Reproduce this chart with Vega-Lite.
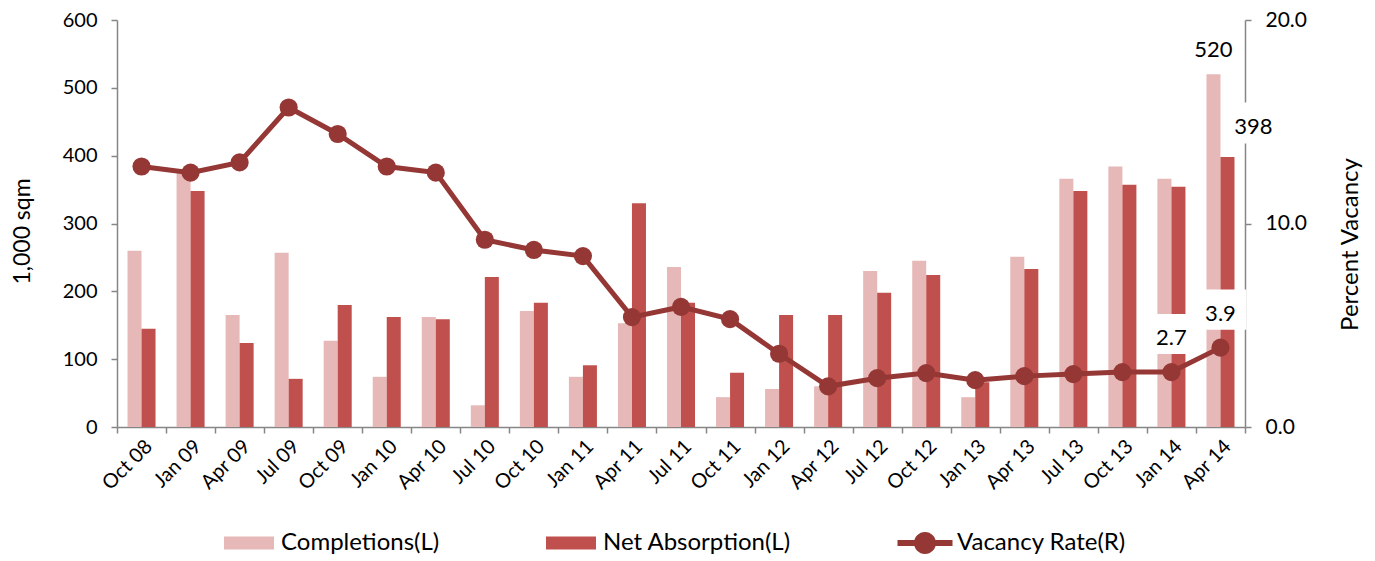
{
  "$schema": "https://vega.github.io/schema/vega-lite/v6.json",
  "autosize": {"type": "none"},
  "width": 1128,
  "height": 407,
  "padding": {"left": 117, "top": 20, "right": 130, "bottom": 134},
  "config": {
    "font": "Lato",
    "view": {"stroke": null},
    "axis": {"domainColor": "#868686", "tickColor": "#868686", "grid": false, "labelColor": "#000000", "titleColor": "#000000", "labelFont": "Lato", "titleFont": "Lato", "titleFontWeight": "normal", "domainWidth": 1.5, "tickWidth": 1.5}
  },
  "datasets": {
    "bars": [
      {"quarter": "Oct 08", "series": "Completions(L)", "value": 260},
      {"quarter": "Oct 08", "series": "Net Absorption(L)", "value": 145},
      {"quarter": "Jan 09", "series": "Completions(L)", "value": 380},
      {"quarter": "Jan 09", "series": "Net Absorption(L)", "value": 348},
      {"quarter": "Apr 09", "series": "Completions(L)", "value": 165},
      {"quarter": "Apr 09", "series": "Net Absorption(L)", "value": 124},
      {"quarter": "Jul 09", "series": "Completions(L)", "value": 257},
      {"quarter": "Jul 09", "series": "Net Absorption(L)", "value": 71},
      {"quarter": "Oct 09", "series": "Completions(L)", "value": 127},
      {"quarter": "Oct 09", "series": "Net Absorption(L)", "value": 180},
      {"quarter": "Jan 10", "series": "Completions(L)", "value": 74},
      {"quarter": "Jan 10", "series": "Net Absorption(L)", "value": 162},
      {"quarter": "Apr 10", "series": "Completions(L)", "value": 162},
      {"quarter": "Apr 10", "series": "Net Absorption(L)", "value": 159},
      {"quarter": "Jul 10", "series": "Completions(L)", "value": 32},
      {"quarter": "Jul 10", "series": "Net Absorption(L)", "value": 221},
      {"quarter": "Oct 10", "series": "Completions(L)", "value": 171},
      {"quarter": "Oct 10", "series": "Net Absorption(L)", "value": 183},
      {"quarter": "Jan 11", "series": "Completions(L)", "value": 74},
      {"quarter": "Jan 11", "series": "Net Absorption(L)", "value": 91},
      {"quarter": "Apr 11", "series": "Completions(L)", "value": 153},
      {"quarter": "Apr 11", "series": "Net Absorption(L)", "value": 330},
      {"quarter": "Jul 11", "series": "Completions(L)", "value": 236},
      {"quarter": "Jul 11", "series": "Net Absorption(L)", "value": 183},
      {"quarter": "Oct 11", "series": "Completions(L)", "value": 44},
      {"quarter": "Oct 11", "series": "Net Absorption(L)", "value": 80},
      {"quarter": "Jan 12", "series": "Completions(L)", "value": 56},
      {"quarter": "Jan 12", "series": "Net Absorption(L)", "value": 165},
      {"quarter": "Apr 12", "series": "Completions(L)", "value": 60},
      {"quarter": "Apr 12", "series": "Net Absorption(L)", "value": 165},
      {"quarter": "Jul 12", "series": "Completions(L)", "value": 230},
      {"quarter": "Jul 12", "series": "Net Absorption(L)", "value": 198},
      {"quarter": "Oct 12", "series": "Completions(L)", "value": 245},
      {"quarter": "Oct 12", "series": "Net Absorption(L)", "value": 224},
      {"quarter": "Jan 13", "series": "Completions(L)", "value": 44},
      {"quarter": "Jan 13", "series": "Net Absorption(L)", "value": 66},
      {"quarter": "Apr 13", "series": "Completions(L)", "value": 251},
      {"quarter": "Apr 13", "series": "Net Absorption(L)", "value": 233},
      {"quarter": "Jul 13", "series": "Completions(L)", "value": 366},
      {"quarter": "Jul 13", "series": "Net Absorption(L)", "value": 348},
      {"quarter": "Oct 13", "series": "Completions(L)", "value": 384},
      {"quarter": "Oct 13", "series": "Net Absorption(L)", "value": 357},
      {"quarter": "Jan 14", "series": "Completions(L)", "value": 366},
      {"quarter": "Jan 14", "series": "Net Absorption(L)", "value": 354},
      {"quarter": "Apr 14", "series": "Completions(L)", "value": 520},
      {"quarter": "Apr 14", "series": "Net Absorption(L)", "value": 398}
    ],
    "vacancy": [
      {"quarter": "Oct 08", "rate": 12.8},
      {"quarter": "Jan 09", "rate": 12.5},
      {"quarter": "Apr 09", "rate": 13.0},
      {"quarter": "Jul 09", "rate": 15.7},
      {"quarter": "Oct 09", "rate": 14.4},
      {"quarter": "Jan 10", "rate": 12.8},
      {"quarter": "Apr 10", "rate": 12.5},
      {"quarter": "Jul 10", "rate": 9.2},
      {"quarter": "Oct 10", "rate": 8.7},
      {"quarter": "Jan 11", "rate": 8.4},
      {"quarter": "Apr 11", "rate": 5.4},
      {"quarter": "Jul 11", "rate": 5.9},
      {"quarter": "Oct 11", "rate": 5.3},
      {"quarter": "Jan 12", "rate": 3.6},
      {"quarter": "Apr 12", "rate": 2.0},
      {"quarter": "Jul 12", "rate": 2.4},
      {"quarter": "Oct 12", "rate": 2.65},
      {"quarter": "Jan 13", "rate": 2.3},
      {"quarter": "Apr 13", "rate": 2.5},
      {"quarter": "Jul 13", "rate": 2.6},
      {"quarter": "Oct 13", "rate": 2.7},
      {"quarter": "Jan 14", "rate": 2.7},
      {"quarter": "Apr 14", "rate": 3.9}
    ]
  },
  "layer": [
    {
      "data": {"name": "bars"},
      "encoding": {
        "x": {"field": "quarter", "type": "nominal", "sort": null,
          "scale": {"paddingInner": 0, "paddingOuter": 0},
          "axis": {"title": null, "labelAngle": -45, "labelFontSize": 20, "tickBand": "extent", "tickSize": 6, "labelPadding": 3}},
        "y": {"field": "value", "type": "quantitative",
          "scale": {"domain": [0, 600], "nice": false},
          "axis": {"title": "1,000 sqm", "titleY": 211, "values": [0, 100, 200, 300, 400, 500, 600], "labelFontSize": 20, "titleFontSize": 23, "tickSize": 6, "labelPadding": 14, "titlePadding": 28}}
      },
      "layer": [
        {
          "mark": {"type": "bar"},
          "encoding": {
            "xOffset": {"field": "series", "type": "nominal", "sort": null, "scale": {"paddingInner": 0, "paddingOuter": 0.75}},
            "color": {"field": "series", "type": "nominal",
              "scale": {"domain": ["Completions(L)", "Net Absorption(L)", "Vacancy Rate(R)"], "range": ["#E6B9B8", "#C0504D", "#953735"]},
              "legend": {"title": null, "orient": "none", "direction": "horizontal", "legendX": 107, "legendY": 498,
                "labelFontSize": 24, "labelFont": "Lato", "labelColor": "#000000", "labelLimit": 400, "symbolSize": 2500, "labelOffset": 7, "columnPadding": 106, "symbolStrokeWidth": 0,
                "encode": {"symbols": {"update": {
                  "shape": {"signal": "datum.value === 'Vacancy Rate(R)' ? 'M-1.1,-0.12L1.1,-0.12L1.1,0.12L-1.1,0.12Z M0.44,0 A0.44,0.44 0 1,1 -0.44,0 A0.44,0.44 0 1,1 0.44,0Z' : 'M-1,-0.26L1,-0.26L1,0.26L-1,0.26Z'"},
                  "fill": {"signal": "scale('color', datum.value)"},
                  "fillOpacity": {"value": 1},
                  "strokeWidth": {"value": 0}
                }}}}
            }
          }
        },
        {
          "transform": [{"filter": "datum.quarter === 'Apr 14' && datum.series === 'Completions(L)'"}],
          "mark": {"type": "text", "baseline": "middle", "dy": -24, "fontSize": 22, "font": "Lato", "color": "#000000"},
          "encoding": {
            "xOffset": {"field": "series", "type": "nominal", "sort": ["Completions(L)", "Net Absorption(L)"], "scale": {"domain": ["Completions(L)", "Net Absorption(L)"], "paddingInner": 0, "paddingOuter": 0.75}},
            "text": {"field": "value", "type": "quantitative"}}
        },
        {
          "transform": [{"filter": "datum.quarter === 'Apr 14' && datum.series === 'Net Absorption(L)'"}],
          "mark": {"type": "point", "shape": "M-1,-0.82L1,-0.82L1,0.82L-1,0.82Z", "size": 2500, "filled": true, "color": "#ffffff", "opacity": 1, "xOffset": 32, "yOffset": -34},
          "encoding": {}
        },
        {
          "transform": [{"filter": "datum.quarter === 'Apr 14' && datum.series === 'Net Absorption(L)'"}],
          "mark": {"type": "text", "baseline": "middle", "dy": -30, "dx": 33, "fontSize": 22, "font": "Lato", "color": "#000000"},
          "encoding": {"text": {"field": "value", "type": "quantitative"}}
        }
      ]
    },
    {
      "data": {"name": "vacancy"},
      "encoding": {
        "x": {"field": "quarter", "type": "nominal", "sort": null},
        "y": {"field": "rate", "type": "quantitative",
          "scale": {"domain": [0, 20], "nice": false},
          "axis": {"orient": "right", "title": "Percent Vacancy", "titleAngle": -90, "titleY": 224, "values": [0, 10, 20], "format": ".1f", "labelFontSize": 21, "titleFontSize": 24, "tickSize": 6, "labelPadding": 14, "titlePadding": 56}}
      },
      "layer": [
        {
          "mark": {"type": "line", "strokeWidth": 5, "point": {"filled": true, "size": 330, "opacity": 1}},
          "encoding": {"color": {"datum": "Vacancy Rate(R)"}}
        },
        {
          "transform": [{"filter": "datum.quarter === 'Jan 14' || datum.quarter === 'Apr 14'"}],
          "mark": {"type": "point", "shape": "M-1,-0.77L1,-0.77L1,0.77L-1,0.77Z", "size": 2704, "filled": true, "color": "#ffffff", "opacity": 1, "yOffset": -38},
          "encoding": {}
        },
        {
          "transform": [{"filter": "datum.quarter === 'Jan 14' || datum.quarter === 'Apr 14'"}],
          "mark": {"type": "text", "baseline": "middle", "dy": -34, "fontSize": 22, "font": "Lato", "color": "#000000"},
          "encoding": {"text": {"field": "rate", "type": "quantitative", "format": ".1f"}}
        }
      ]
    }
  ],
  "resolve": {"scale": {"y": "independent"}}
}
